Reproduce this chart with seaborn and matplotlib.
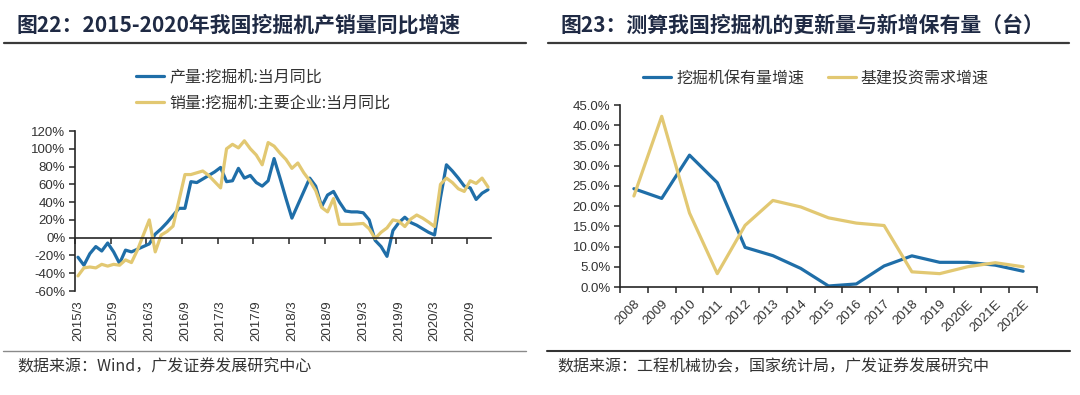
import numpy as np
import pandas as pd
import matplotlib
matplotlib.use("Agg")
import matplotlib.pyplot as plt
import seaborn as sns
from matplotlib.lines import Line2D
from matplotlib.ticker import FuncFormatter

# ---------------- data: left chart (monthly, 2015/3 - 2020/12) ----------------
months = [p.strftime("%Y/") + str(p.month) for p in pd.period_range("2015-03", "2020-12", freq="M")]
prod_yoy = [-22, -31, -18, -10, -15, -6, -16, -29, -14, -16,
            -13, -10, -7, 4, 10, 17, 25, 33, 33, 63,
            62, 66, 70, 74, 79, 63, 64, 78, 67, 70,
            62, 58, 64, 89, 67, 44, 22, 37, 52, 67,
            58, 35, 48, 52, 40, 30, 29, 29, 28, 20,
            -3, -10, -21, 8, 17, 23, 17, 14, 10, 6,
            3, 45, 82, 75, 67, 58, 56, 43, 50, 54]
sales_yoy = [-43, -34, -33, -34, -30, -32, -30, -31, -25, -28,
             -14, 3, 20, -16, 3, 7, 13, 42, 71, 71,
             73, 75, 70, 63, 56, 100, 105, 101, 109, 100,
             93, 82, 107, 103, 95, 88, 78, 84, 73, 64,
             53, 34, 29, 44, 15, 15, 15, 15.5, 16, 10,
             -1, 6, 11, 20, 18.5, 12.5, 21, 25.5, 22, 17.5,
             12.5, 60, 67, 62, 55, 52, 64, 61, 67, 57]
left_tick_labels = ["2015/3", "2015/9", "2016/3", "2016/9", "2017/3", "2017/9",
                    "2018/3", "2018/9", "2019/3", "2019/9", "2020/3", "2020/9"]
left_series = ["产量:挖掘机:当月同比", "销量:挖掘机:主要企业:当月同比"]

# ---------------- data: right chart (annual) ----------------
years = ["2008", "2009", "2010", "2011", "2012", "2013", "2014", "2015",
         "2016", "2017", "2018", "2019", "2020E", "2021E", "2022E"]
stock_growth = [24.3, 21.9, 32.6, 25.8, 9.8, 7.75, 4.6, 0.25, 0.75, 5.2,
                7.7, 6.1, 6.1, 5.4, 3.9]
infra_growth = [22.5, 42.2, 18.3, 3.3, 15.25, 21.4, 19.8, 17.1, 15.8, 15.2,
                3.75, 3.3, 5.0, 6.0, 5.0]
right_series = ["挖掘机保有量增速", "基建投资需求增速"]

BLUE = "#1F6EA8"
GOLD = "#E2C872"
AX = "#262626"
TXT = "#333333"
CJK = ["Noto Sans CJK SC", "DejaVu Sans"]

sns.set_style("ticks")
plt.rcParams["font.family"] = ["Liberation Sans", "Noto Sans CJK SC", "DejaVu Sans"]
plt.rcParams["axes.unicode_minus"] = False

W, H = 1080, 395
fig = plt.figure(figsize=(W / 100, H / 100), dpi=100)


def fx(px):
    return px / W


def fy(py):
    return 1 - py / H


# ---------------- left chart ----------------
ax1 = fig.add_axes([fx(75), fy(291), fx(491 - 75), (291 - 131) / H])
df1 = pd.DataFrame({
    "idx": list(range(len(months))) * 2,
    "value": prod_yoy + sales_yoy,
    "series": [left_series[0]] * len(months) + [left_series[1]] * len(months),
})
sns.lineplot(data=df1, x="idx", y="value", hue="series", hue_order=left_series,
             palette=[BLUE, GOLD], linewidth=2.3, ax=ax1, legend=False,
             estimator=None, sort=False)
ax1.set_xlim(-0.5, len(months) - 0.5)
ax1.set_ylim(-60, 120)
ax1.set_yticks(np.arange(-60, 121, 20))
ax1.yaxis.set_major_formatter(FuncFormatter(lambda v, p: f"{int(v)}%"))
ax1.set_xlabel("")
ax1.set_ylabel("")
for s in ["top", "right"]:
    ax1.spines[s].set_visible(False)
ax1.spines["left"].set_color(AX)
ax1.spines["left"].set_linewidth(1.2)
ax1.spines["bottom"].set_position(("data", 0))
ax1.spines["bottom"].set_color(AX)
ax1.spines["bottom"].set_linewidth(1.2)
ax1.set_xticks(np.arange(-0.5, len(months) - 1, 6))
ax1.tick_params(axis="x", direction="out", length=4, width=1.1, color=AX, labelbottom=False)
ax1.tick_params(axis="y", direction="out", length=4, width=1.1, color=AX,
                labelsize=9.5, labelcolor=TXT, pad=3)
sec1 = ax1.secondary_xaxis("bottom")
sec1.set_xticks(np.arange(0, len(months), 6))
sec1.set_xticklabels(left_tick_labels, rotation=90, fontsize=9.5, color=TXT)
sec1.tick_params(length=0, pad=7)
sec1.spines["bottom"].set_visible(False)

handles1 = [Line2D([], [], color=BLUE, lw=2.3), Line2D([], [], color=GOLD, lw=2.3)]
leg1 = fig.legend(handles1, left_series, loc="upper left",
                  bbox_to_anchor=(fx(130), fy(62)), frameon=False,
                  prop={"family": CJK, "size": 11.5}, handlelength=1.75,
                  handletextpad=0.3, labelspacing=0.6, borderaxespad=0)
for t in leg1.get_texts():
    t.set_color(TXT)

# ---------------- right chart ----------------
ax2 = fig.add_axes([fx(620), fy(287), fx(1037 - 620), (287 - 105) / H])
df2 = pd.DataFrame({
    "idx": list(range(len(years))) * 2,
    "value": stock_growth + infra_growth,
    "series": [right_series[0]] * len(years) + [right_series[1]] * len(years),
})
sns.lineplot(data=df2, x="idx", y="value", hue="series", hue_order=right_series,
             palette=[BLUE, GOLD], linewidth=2.3, ax=ax2, legend=False,
             estimator=None, sort=False)
ax2.set_xlim(-0.5, len(years) - 0.5)
ax2.set_ylim(0, 45)
ax2.set_yticks(np.arange(0, 46, 5))
ax2.yaxis.set_major_formatter(FuncFormatter(lambda v, p: f"{v:.1f}%"))
ax2.set_xlabel("")
ax2.set_ylabel("")
for s in ["top", "right"]:
    ax2.spines[s].set_visible(False)
for s in ["left", "bottom"]:
    ax2.spines[s].set_color(AX)
    ax2.spines[s].set_linewidth(1.2)
ax2.set_xticks(np.arange(-0.5, len(years), 1))
ax2.tick_params(axis="x", direction="out", length=4, width=1.1, color=AX, labelbottom=False)
ax2.tick_params(axis="y", direction="out", length=4, width=1.1, color=AX,
                labelsize=9.5, labelcolor=TXT, pad=3)
sec2 = ax2.secondary_xaxis("bottom")
sec2.set_xticks(np.arange(len(years)))
sec2.set_xticklabels(years, rotation=45, ha="right", rotation_mode="anchor",
                     fontsize=9.5, color=TXT)
sec2.tick_params(length=0, pad=8)
sec2.spines["bottom"].set_visible(False)

handles2 = [Line2D([], [], color=BLUE, lw=2.3), Line2D([], [], color=GOLD, lw=2.3)]
leg2 = fig.legend(handles2, right_series, loc="upper left", ncol=2,
                  bbox_to_anchor=(fx(637), fy(63)), frameon=False,
                  prop={"family": CJK, "size": 11.5}, handlelength=1.75,
                  handletextpad=0.3, columnspacing=1.5, borderaxespad=0)
for t in leg2.get_texts():
    t.set_color(TXT)

# ---------------- titles, rules and sources ----------------
fig.text(fx(17), fy(25), "图22：2015-2020年我国挖掘机产销量同比增速", family=CJK,
         fontsize=15, fontweight="bold", color="#1F2A44", va="center", ha="left")
fig.text(fx(560), fy(25), "图23：测算我国挖掘机的更新量与新增保有量（台）", family=CJK,
         fontsize=15, fontweight="bold", color="#1F2A44", va="center", ha="left")
fig.add_artist(Line2D([fx(4), fx(526)], [fy(42.5)] * 2, color="#3A3A3A", lw=1.6))
fig.add_artist(Line2D([fx(548), fx(1069)], [fy(42.5)] * 2, color="#3A3A3A", lw=1.6))
fig.add_artist(Line2D([fx(3), fx(526)], [fy(351)] * 2, color="#8A8A8A", lw=1.0))
fig.add_artist(Line2D([fx(547), fx(1070)], [fy(351)] * 2, color="#333333", lw=1.5))
fig.text(fx(17), fy(367), "数据来源：Wind，广发证券发展研究中心", family=CJK,
         fontsize=11.5, color=TXT, va="center", ha="left")
fig.text(fx(557), fy(367), "数据来源：工程机械协会，国家统计局，广发证券发展研究中", family=CJK,
         fontsize=11.5, color=TXT, va="center", ha="left")

fig.savefig("out.png", dpi=100)
